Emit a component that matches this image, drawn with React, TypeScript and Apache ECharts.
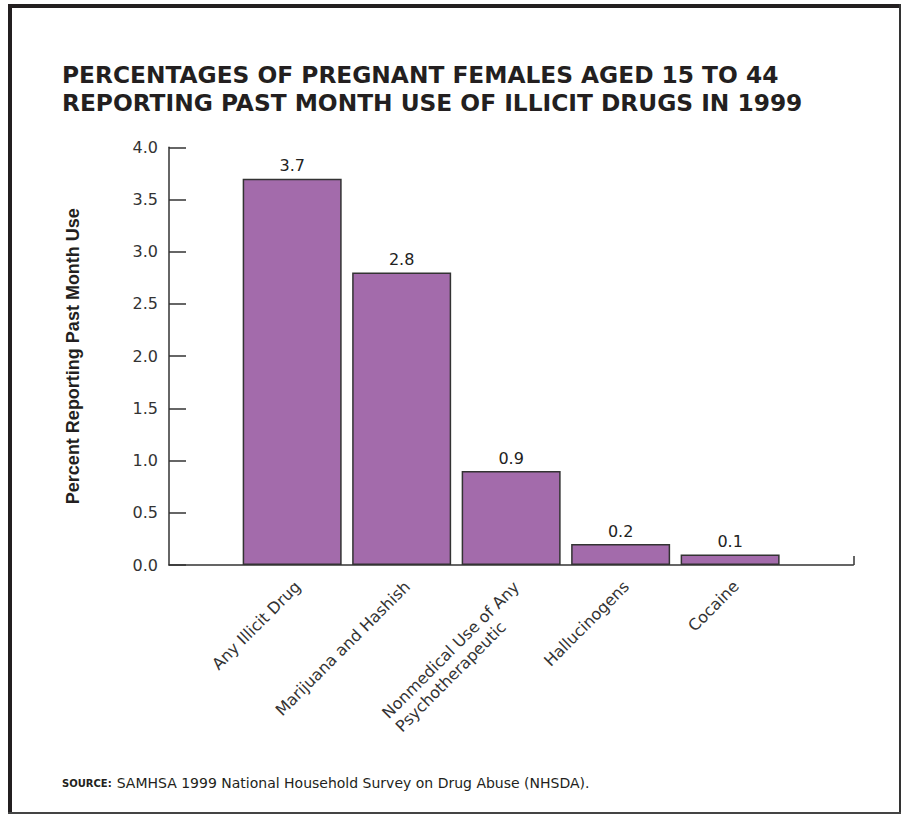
import React, { useEffect, useRef } from "react";
import * as echarts from "echarts";

const categories: string[] = [
  "Any Illicit Drug",
  "Marijuana and Hashish",
  "Nonmedical Use of Any\nPsychotherapeutic",
  "Hallucinogens",
  "Cocaine",
];
const values: number[] = [3.7, 2.8, 0.9, 0.2, 0.1];
const titleLines: string[] = [
  "PERCENTAGES OF PREGNANT FEMALES AGED 15 TO 44",
  "REPORTING PAST MONTH USE OF ILLICIT DRUGS IN 1999",
];
const yAxisName = "Percent Reporting Past Month Use";
const sourceLabel = "SOURCE:";
const sourceText = "SAMHSA 1999 National Household Survey on Drug Abuse (NHSDA).";

const FONT = "DejaVu Sans";
const XLABEL_SIZE = 16;

function measure(text: string, size: number, family: string): number {
  const c = document.createElement("canvas").getContext("2d");
  if (!c) return text.length * size * 0.55;
  c.font = `${size}px "${family}"`;
  return c.measureText(text).width;
}

export default function App() {
  const ref = useRef<HTMLDivElement>(null);
  useEffect(() => {
    document.body.style.margin = "0";
    if (!ref.current) return;
    const chart = echarts.init(ref.current, null, { renderer: "svg" });
    const dark = "#231f20";
    const axisColor = "#333";

    // width of the longest line of multi-line labels, so lines can be left-aligned
    const labelWidths = categories.map((c) =>
      Math.max(...c.split("\n").map((l) => measure(l, XLABEL_SIZE, FONT)))
    );

    chart.setOption({
      animation: false,
      backgroundColor: "#fff",
      title: [
        {
          text: titleLines.join("\n"),
          left: 62,
          top: 60,
          padding: 0,
          textStyle: {
            fontFamily: FONT,
            fontWeight: "bold",
            fontSize: 23.3,
            lineHeight: 28,
            color: dark,
          },
        },
        {
          text: `{b|${sourceLabel}} {n|${sourceText}}`,
          left: 62,
          top: 774,
          padding: 0,
          textStyle: {
            rich: {
              b: { fontFamily: FONT, fontWeight: "bold", fontSize: 10, color: dark },
              n: { fontFamily: FONT, fontWeight: "normal", fontSize: 14, color: dark },
            },
          },
        },
      ],
      graphic: [
        { type: "rect", shape: { x: 8, y: 4, width: 4, height: 810 }, style: { fill: dark } },
        { type: "rect", shape: { x: 8, y: 4, width: 893, height: 4 }, style: { fill: dark } },
        { type: "rect", shape: { x: 899, y: 4, width: 2, height: 810 }, style: { fill: "#333" } },
        { type: "rect", shape: { x: 8, y: 812, width: 893, height: 2 }, style: { fill: "#444" } },
      ],
      grid: { left: 169, right: 47.7, top: 147.3, bottom: 249 },
      xAxis: {
        type: "value",
        min: -1.125,
        max: 5.125,
        axisLine: { show: true, onZero: false, lineStyle: { color: axisColor, width: 1.5 } },
        axisTick: {
          show: true,
          inside: true,
          length: 9,
          customValues: [5.125],
          lineStyle: { color: axisColor, width: 1.5 },
        },
        splitLine: { show: false },
        axisLabel: {
          customValues: categories.map((_, i) => i),
          formatter: (v: number) => {
            const i = Math.round(v);
            const c = categories[i];
            if (!c) return "";
            return c
              .split("\n")
              .map((l) => `{l${i}|${l}}`)
              .join("\n");
          },
          rotate: 45,
          align: "right",
          verticalAlign: "top",
          margin: 11,
          fontFamily: FONT,
          fontSize: XLABEL_SIZE,
          color: axisColor,
          lineHeight: 19,
          rich: Object.fromEntries(
            categories.map((_, i) => [
              `l${i}`,
              {
                width: Math.ceil(labelWidths[i]) + 1,
                align: "left",
                fontFamily: FONT,
                fontSize: XLABEL_SIZE,
                color: axisColor,
                lineHeight: 19,
              },
            ])
          ),
        },
      },
      yAxis: {
        type: "value",
        min: 0,
        max: 4,
        interval: 0.5,
        name: yAxisName,
        nameLocation: "middle",
        nameGap: 87,
        nameTextStyle: {
          fontFamily: "Liberation Sans",
          fontWeight: "bold",
          fontSize: 18,
          color: dark,
        },
        axisLine: { show: true, onZero: false, lineStyle: { color: axisColor, width: 1.5 } },
        axisTick: { show: true, inside: true, length: 17, lineStyle: { color: axisColor, width: 1.5 } },
        splitLine: { show: false },
        axisLabel: {
          formatter: (v: number) => v.toFixed(1),
          margin: 11,
          fontFamily: FONT,
          fontSize: 16,
          color: axisColor,
        },
      },
      series: [
        {
          type: "bar",
          data: values.map((v, i) => [i, v]),
          barWidth: 99,
          itemStyle: { color: "#A36BAB", borderColor: "#333", borderWidth: 1.5 },
          label: {
            show: true,
            position: "top",
            distance: 5,
            fontFamily: FONT,
            fontSize: 16,
            color: "#222",
            formatter: (p: any) => Number(p.value[1]).toFixed(1),
          },
        },
      ],
    });
    return () => chart.dispose();
  }, []);
  return <div ref={ref} style={{ width: 901, height: 814 }} />;
}
